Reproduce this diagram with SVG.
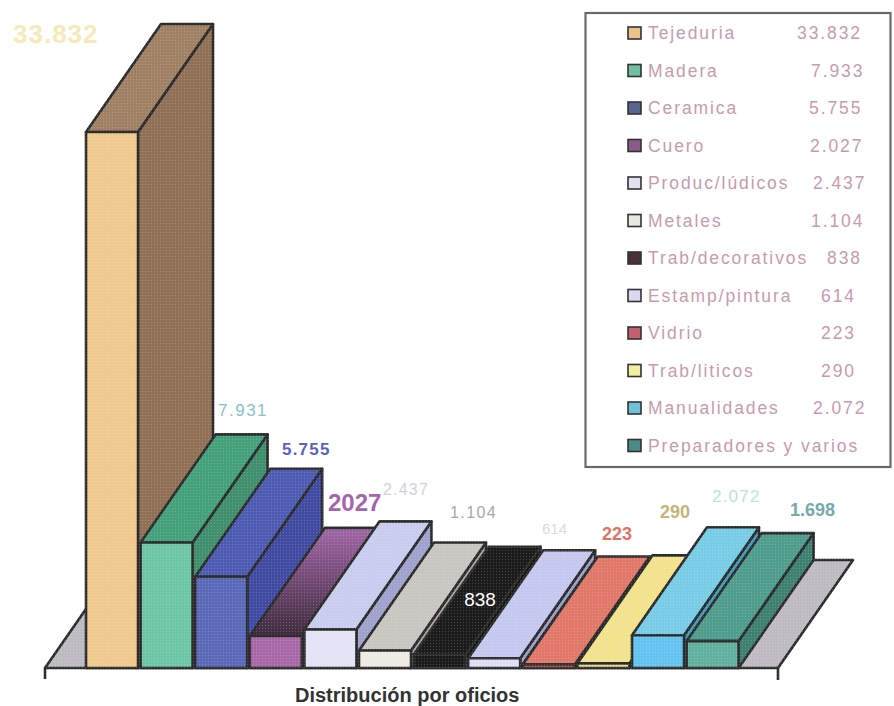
<svg xmlns="http://www.w3.org/2000/svg" width="894" height="706" viewBox="0 0 894 706">
<defs>
<style>
.e{stroke:#2b2b2b;stroke-width:2.6;stroke-linejoin:round}
.lg{font-family:"Liberation Sans",Arial,sans-serif;font-size:17.5px;letter-spacing:1.9px;fill:#C79BAE}
.sw{stroke:#333;stroke-width:1.6}
.v{font-family:"Liberation Sans",Arial,sans-serif}
</style>
<pattern id="dots" width="3" height="3" patternUnits="userSpaceOnUse"><circle cx="1.5" cy="1.5" r="0.7" fill="#fff"/></pattern>
<linearGradient id="cueroTop" gradientUnits="userSpaceOnUse" x1="0" y1="636" x2="0" y2="528">
<stop offset="0" stop-color="#3E2A3C"/><stop offset="1" stop-color="#A066A6"/>
</linearGradient>
</defs>
<rect width="894" height="706" fill="#fff"/>

<g id="floor">
<polygon class="e" points="45,668 778,668 853,560 120,560" fill="#BEBAC2"/>
<path d="M45,668 V679 M778,668 V680" stroke="#2b2b2b" stroke-width="2.6" fill="none"/>
</g>

<g id="bar-tejeduria">
<polygon class="e" points="138,132 213,24 213,560 138,668" fill="#8F7055"/>
<polygon class="e" points="86,132 138,132 213,24 161,24" fill="#A08063"/>
<rect class="e" x="86" y="132" width="52" height="536" fill="#F0C98E"/>
</g>
<g id="bar-madera">
<polygon class="e" points="192.6,542.4 267.6,434.4 267.6,560 192.6,668" fill="#3F8E6E"/>
<polygon class="e" points="140.6,542.4 192.6,542.4 267.6,434.4 215.6,434.4" fill="#43A07A"/>
<rect class="e" x="140.6" y="542.4" width="52" height="125.6" fill="#6CC6A5"/>
</g>
<g id="bar-ceramica">
<polygon class="e" points="247.2,576.8 322.2,468.8 322.2,560 247.2,668" fill="#3F4AA0"/>
<polygon class="e" points="195.2,576.8 247.2,576.8 322.2,468.8 270.2,468.8" fill="#4C5AB2"/>
<rect class="e" x="195.2" y="576.8" width="52" height="91.2" fill="#5A68B8"/>
</g>
<g id="bar-cuero">
<polygon class="e" points="301.8,635.9 376.8,527.9 376.8,560 301.8,668" fill="#6A4270"/>
<polygon class="e" points="249.8,635.9 301.8,635.9 376.8,527.9 324.8,527.9" fill="url(#cueroTop)"/>
<rect class="e" x="249.8" y="635.9" width="52" height="32.1" fill="#A868A8"/>
</g>
<g id="bar-produc-ludicos">
<polygon class="e" points="356.4,629.4 431.4,521.4 431.4,560 356.4,668" fill="#9EA2CC"/>
<polygon class="e" points="304.4,629.4 356.4,629.4 431.4,521.4 379.4,521.4" fill="#C8CCEE"/>
<rect class="e" x="304.4" y="629.4" width="52" height="38.6" fill="#E2E4F6"/>
</g>
<g id="bar-metales">
<polygon class="e" points="411,650.5 486,542.5 486,560 411,668" fill="#A8A49E"/>
<polygon class="e" points="359,650.5 411,650.5 486,542.5 434,542.5" fill="#C9C5C0"/>
<rect class="e" x="359" y="650.5" width="52" height="17.5" fill="#EEEAE4"/>
</g>
<g id="bar-trab-decorativos">
<polygon class="e" points="465.6,654.7 540.6,546.7 540.6,560 465.6,668" fill="#111"/>
<polygon class="e" points="413.6,654.7 465.6,654.7 540.6,546.7 488.6,546.7" fill="#1A1A1A"/>
<rect class="e" x="413.6" y="654.7" width="52" height="13.3" fill="#1A1A1A"/>
</g>
<g id="bar-estamp-pintura">
<polygon class="e" points="520.2,658.3 595.2,550.3 595.2,560 520.2,668" fill="#9A9EC8"/>
<polygon class="e" points="468.2,658.3 520.2,658.3 595.2,550.3 543.2,550.3" fill="#C4C8EE"/>
<rect class="e" x="468.2" y="658.3" width="52" height="9.7" fill="#DCDEF4"/>
</g>
<g id="bar-vidrio">
<polygon class="e" points="574.8,664.5 649.8,556.5 649.8,560 574.8,668" fill="#A84C44"/>
<polygon class="e" points="522.8,664.5 574.8,664.5 649.8,556.5 597.8,556.5" fill="#E07868"/>
<rect class="e" x="522.8" y="664.5" width="52" height="3.5" fill="#D06458"/>
</g>
<g id="bar-trab-liticos">
<polygon class="e" points="629.4,663.4 704.4,555.4 704.4,560 629.4,668" fill="#C8B870"/>
<polygon class="e" points="577.4,663.4 629.4,663.4 704.4,555.4 652.4,555.4" fill="#F2E28C"/>
<rect class="e" x="577.4" y="663.4" width="52" height="4.6" fill="#EEDC88"/>
</g>
<g id="bar-manualidades">
<polygon class="e" points="684,635.2 759,527.2 759,560 684,668" fill="#3E9CBC"/>
<polygon class="e" points="632,635.2 684,635.2 759,527.2 707,527.2" fill="#78CCE6"/>
<rect class="e" x="632" y="635.2" width="52" height="32.8" fill="#62C4EE"/>
</g>
<g id="bar-preparadores">
<polygon class="e" points="738.6,641.1 813.6,533.1 813.6,560 738.6,668" fill="#3E8070"/>
<polygon class="e" points="686.6,641.1 738.6,641.1 813.6,533.1 761.6,533.1" fill="#4E9C8C"/>
<rect class="e" x="686.6" y="641.1" width="52" height="26.9" fill="#60B0A0"/>
</g>

<rect x="40" y="20" width="820" height="660" fill="url(#dots)" opacity="0.18" pointer-events="none"/>

<g id="value-labels" class="v">
<text x="13" y="43" font-size="26" font-weight="bold" letter-spacing="1" fill="#F5EAB8">33.832</text>
<text x="218" y="416" font-size="17" letter-spacing="1.5" fill="#86C4C4">7.931</text>
<text x="282" y="455" font-size="17" font-weight="bold" letter-spacing="1.2" fill="#5864BE">5.755</text>
<text x="328" y="511" font-size="24" font-weight="bold" fill="#A664AE">2027</text>
<text x="383" y="495" font-size="16" letter-spacing="1.2" fill="#D2D2DA">2.437</text>
<text x="450" y="518" font-size="16" letter-spacing="1.4" fill="#A8A8A8">1.104</text>
<text x="542" y="534" font-size="15" fill="#D8DAEA">614</text>
<text x="602" y="540" font-size="18" font-weight="bold" fill="#E07464">223</text>
<text x="660" y="518" font-size="18" font-weight="bold" fill="#C8B478">290</text>
<text x="712" y="502" font-size="17" letter-spacing="1.2" fill="#BCE2E2">2.072</text>
<text x="790" y="516" font-size="18" font-weight="bold" fill="#74AAAA">1.698</text>
<text x="480" y="606" font-size="19" text-anchor="middle" fill="#fff">838</text>
</g>

<g id="legend">
<rect x="585.5" y="13" width="305" height="454" fill="#fff" stroke="#6a6a6a" stroke-width="2.2"/>
<rect class="sw" x="628" y="27" width="13" height="12" fill="#E8C48C"/>
<rect class="sw" x="628" y="64.5" width="13" height="12" fill="#6FC0A0"/>
<rect class="sw" x="628" y="102" width="13" height="12" fill="#5A6490"/>
<rect class="sw" x="628" y="139.5" width="13" height="12" fill="#8A5A8A"/>
<rect class="sw" x="628" y="177" width="13" height="12" fill="#E0E0F0"/>
<rect class="sw" x="628" y="214.5" width="13" height="12" fill="#E8E8E0"/>
<rect class="sw" x="628" y="252" width="13" height="12" fill="#4A3038"/>
<rect class="sw" x="628" y="289.5" width="13" height="12" fill="#D8D8F0"/>
<rect class="sw" x="628" y="327" width="13" height="12" fill="#C06070"/>
<rect class="sw" x="628" y="364.5" width="13" height="12" fill="#F0F0A0"/>
<rect class="sw" x="628" y="402" width="13" height="12" fill="#70C0D8"/>
<rect class="sw" x="628" y="439.5" width="13" height="12" fill="#4A8A88"/>
<text class="lg" x="648" y="39">Tejeduria</text><text class="lg" x="797" y="39">33.832</text>
<text class="lg" x="648" y="76.5">Madera</text><text class="lg" x="811" y="76.5">7.933</text>
<text class="lg" x="648" y="114">Ceramica</text><text class="lg" x="809" y="114">5.755</text>
<text class="lg" x="648" y="151.5">Cuero</text><text class="lg" x="810" y="151.5">2.027</text>
<text class="lg" x="648" y="189">Produc/lúdicos</text><text class="lg" x="813" y="189">2.437</text>
<text class="lg" x="648" y="226.5">Metales</text><text class="lg" x="811" y="226.5">1.104</text>
<text class="lg" x="648" y="264">Trab/decorativos</text><text class="lg" x="827" y="264">838</text>
<text class="lg" x="648" y="301.5">Estamp/pintura</text><text class="lg" x="821" y="301.5">614</text>
<text class="lg" x="648" y="339">Vidrio</text><text class="lg" x="821" y="339">223</text>
<text class="lg" x="648" y="376.5">Trab/liticos</text><text class="lg" x="821" y="376.5">290</text>
<text class="lg" x="648" y="414">Manualidades</text><text class="lg" x="813" y="414">2.072</text>
<text class="lg" x="648" y="451.5" fill="#B88A9E">Preparadores y varios</text>
</g>

<g id="title">
<text x="295" y="702" font-family="'Liberation Sans',Arial,sans-serif" font-size="20" font-weight="bold" fill="#333">Distribución por oficios</text>
</g>
</svg>
